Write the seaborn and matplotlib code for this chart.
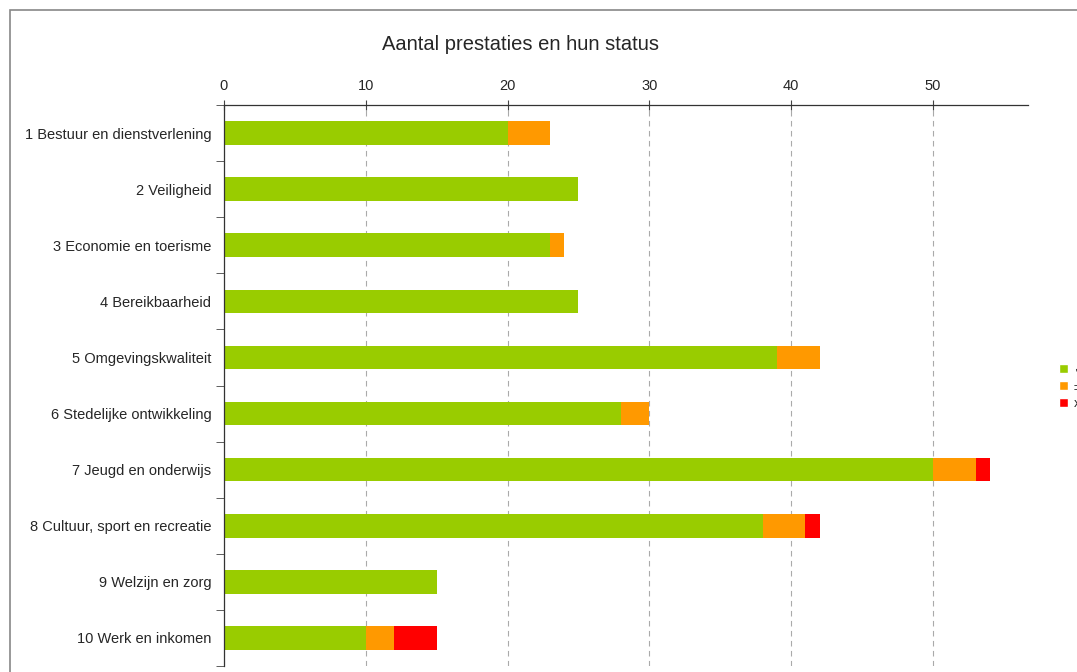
import numpy as np
import matplotlib
matplotlib.use('Agg')
import matplotlib.pyplot as plt
import seaborn as sns
import pandas as pd
from matplotlib.patches import Rectangle, Patch

sns.set_style('white')
plt.rcParams['font.family'] = ['Liberation Sans', 'DejaVu Sans']

categories = ['1 Bestuur en dienstverlening', '2 Veiligheid', '3 Economie en toerisme',
              '4 Bereikbaarheid', '5 Omgevingskwaliteit', '6 Stedelijke ontwikkeling',
              '7 Jeugd en onderwijs', '8 Cultuur, sport en recreatie', '9 Welzijn en zorg',
              '10 Werk en inkomen']
groen = [20, 25, 23, 25, 39, 28, 50, 38, 15, 10]
oranje = [3, 0, 1, 0, 3, 2, 3, 3, 0, 2]
rood = [0, 0, 0, 0, 0, 0, 1, 1, 0, 3]
status_labels = ['\u2713', '\u00b1', 'x']
kleuren = ['#99cc00', '#ff9900', '#ff0000']

df = pd.DataFrame({'cat': categories, 'groen': groen, 'oranje': oranje, 'rood': rood})
df['c2'] = df['groen'] + df['oranje']
df['c3'] = df['c2'] + df['rood']

fig = plt.figure(figsize=(10.77, 6.72), dpi=100)
ax = fig.add_axes([224 / 1077, 6 / 672, (1028 - 224) / 1077, (666 - 105) / 672])

# stapelen: totaal eerst, dan groen+oranje, dan groen
for col, kleur in zip(['c3', 'c2', 'groen'], kleuren[::-1]):
    sns.barplot(data=df, x=col, y='cat', color=kleur, width=0.42, ax=ax,
                orient='h', saturation=1, linewidth=0)

ax.set_xlim(0, 56.7)
ax.set_ylim(9.5, -0.5)
ax.xaxis.tick_top()
ax.set_xticks([0, 10, 20, 30, 40, 50])
ax.tick_params(axis='x', top=True, direction='inout', length=7, pad=5, labelsize=10.5,
               color='#444444')
ax.set_xlabel('')
ax.set_ylabel('')
ax.xaxis.grid(True, linestyle=(0, (5, 4)), color='#aaaaaa', linewidth=0.8)
ax.set_axisbelow(True)
ax.set_yticks(np.arange(len(categories)))
ax.set_yticklabels(categories)
ax.tick_params(axis='y', which='major', length=0, pad=9, labelsize=10.5)
ax.set_yticks(np.arange(len(categories) + 1) - 0.5, minor=True)
ax.tick_params(axis='y', which='minor', left=True, length=6, color='#444444')
for s in ['right', 'bottom']:
    ax.spines[s].set_visible(False)
for s in ['left', 'top']:
    ax.spines[s].set_color('#333333')
    ax.spines[s].set_linewidth(0.9)

fig.text(521 / 1077, 1 - 45 / 672, 'Aantal prestaties en hun status', ha='center',
         va='center', fontsize=14.5)

handles = [Patch(facecolor=k, label=l) for k, l in zip(kleuren, status_labels)]
fig.legend(handles=handles, loc='upper left', bbox_to_anchor=(1059 / 1077, 1 - 364 / 672),
           frameon=False, fontsize=9.5, handlelength=0.7, handleheight=0.7,
           handletextpad=0.4, labelspacing=0.35, borderaxespad=0, borderpad=0)

fig.add_artist(Rectangle((10 / 1077, -0.1), 1.2, 1.1 - 10 / 672, transform=fig.transFigure,
                         fill=False, edgecolor='#888888', linewidth=1.2))

fig.savefig('out.png', dpi=100)
